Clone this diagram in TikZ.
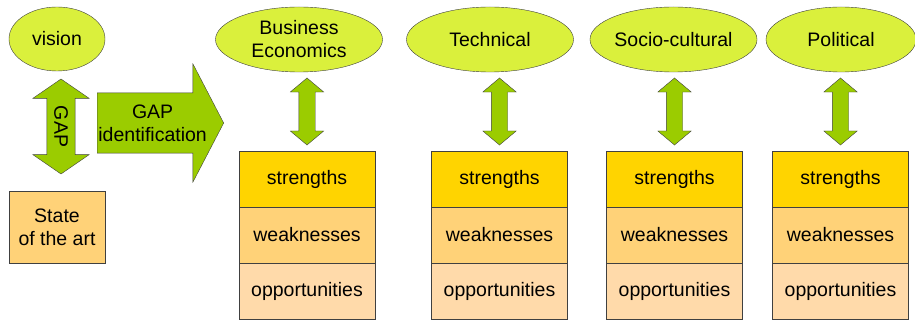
\documentclass[tikz,border=0pt]{standalone}
\usepackage{fontspec}
\setmainfont{Liberation Sans}
\usetikzlibrary{shapes.geometric, shapes.arrows, calc}
\definecolor{topicgreen}{RGB}{218,240,60}
\definecolor{arrowgreen}{RGB}{155,204,0}
\definecolor{strcol}{RGB}{255,212,0}
\definecolor{weakcol}{RGB}{255,210,120}
\definecolor{oppcol}{RGB}{255,218,170}
\tikzset{
  topic/.style = {ellipse, draw=black!75, fill=topicgreen, inner sep=0pt, minimum width=167pt, minimum height=65pt, align=center},
  swot/.style = {rectangle, draw=black!75, minimum width=136pt, minimum height=56pt},
  link/.style = {double arrow, draw=black!75, fill=arrowgreen, inner xsep=0pt, inner ysep=8pt, minimum height=67pt, minimum width=33pt, double arrow head extend=8.5pt, double arrow tip angle=100, rotate=90}
}

\begin{document}
\begin{tikzpicture}[x=1pt, y=-1pt, font=\fontsize{19.5}{23}\selectfont]
\useasboundingbox (0,0) rectangle (915,320);
\path (57,39) node[topic, minimum width=96pt, minimum height=64pt] (vis) {vision};
\path (57,227) node[rectangle, draw=black!75, fill=weakcol, minimum width=96pt, minimum height=72pt, align=center] (sota) {State\\of the art};
\path (61,126.5) node[double arrow, draw=black!75, fill=arrowgreen, rotate=-90, inner xsep=0pt, inner ysep=7pt, minimum height=95pt, minimum width=56pt, double arrow head extend=14pt, double arrow tip angle=111] (gap) {GAP};
\path (97,123) node[single arrow, anchor=tail, draw=black!75, fill=arrowgreen, align=center, inner xsep=1pt, inner ysep=11.5pt, minimum height=123pt, minimum width=118pt, single arrow head extend=29pt, single arrow tip angle=125] (gapid) {GAP\\identification};

\path (299,39.5) node[topic] (be) {Business\\Economics};
\path (307,179) node[swot, fill=strcol] (bs) {strengths};
\path (307,235) node[swot, fill=weakcol] (bw) {weaknesses};
\path (307,291) node[swot, fill=oppcol] (bo) {opportunities};
\path ($(bs.north)!0.5!(bs.north|-be.south)$) node[link] (bl) {};

\path (490,39.5) node[topic] (te) {Technical};
\path (499.5,179) node[swot, fill=strcol] (ts) {strengths};
\path (499.5,235) node[swot, fill=weakcol] (tw) {weaknesses};
\path (499.5,291) node[swot, fill=oppcol] (to) {opportunities};
\path ($(ts.north)!0.5!(ts.north|-te.south)$) node[link] (tl) {};

\path (673.5,39.5) node[topic] (se) {Socio-cultural};
\path (674.5,179) node[swot, fill=strcol] (ss) {strengths};
\path (674.5,235) node[swot, fill=weakcol] (sw) {weaknesses};
\path (674.5,291) node[swot, fill=oppcol] (so) {opportunities};
\path ($(ss.north)!0.5!(ss.north|-se.south)$) node[link] (sl) {};

\path (841,39.5) node[topic, minimum width=150pt] (pe) {Political};
\path (840.5,179) node[swot, fill=strcol] (ps) {strengths};
\path (840.5,235) node[swot, fill=weakcol] (pw) {weaknesses};
\path (840.5,291) node[swot, fill=oppcol] (po) {opportunities};
\path ($(ps.north)!0.5!(ps.north|-pe.south)$) node[link] (pl) {};
\end{tikzpicture}
\end{document}
